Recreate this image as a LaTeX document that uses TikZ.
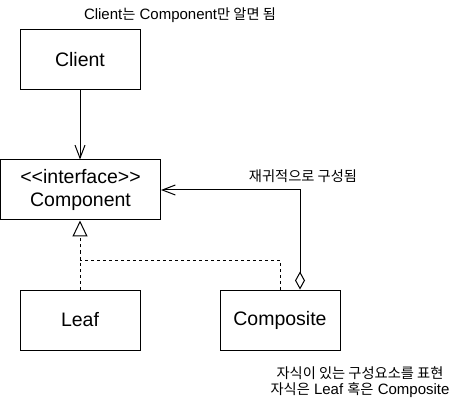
\documentclass[tikz,border=0pt]{standalone}
\usepackage{fontspec}
\setmainfont{Liberation Sans}
\newfontfamily\kr{Noto Sans CJK KR}[Scale=0.95,RawFeature=+palt]
\usetikzlibrary{arrows.meta}
\tikzset{
  umlbox/.style={draw, line width=1pt, minimum width=120pt, minimum height=60pt, inner sep=0pt, align=center, font=\fontsize{19.5}{23}\selectfont},
  note/.style={inner sep=0pt, align=center, font=\fontsize{15}{15.5}\selectfont},
  conn/.style={line width=1pt},
  dashconn/.style={line width=1pt, dash pattern=on 3pt off 3pt},
  openhead/.style={-{Straight Barb[length=13pt,width=10pt,line width=1pt]}},
}
\begin{document}
\begin{tikzpicture}[x=1pt,y=-1pt]
\useasboundingbox (0,0) rectangle (461,401);
\node[umlbox] (client) at (80,60) {Client};
\node[umlbox, minimum width=160pt] (component) at (80.5,190) {<\kern0pt<interface>\kern0pt>\\Component};
\node[umlbox] (leaf) at (80,320) {Leaf};
\node[umlbox] (composite) at (280,320) {Composite};

\node[note] (lbl1) at (180,15.5) {Client{\kr 는} Component{\kr 만 알면 됨}};
\node[note] (lbl2) at (303,176) {{\kr 재귀적으로 구성됨}};
\node[note] (lbl3) at (360,382) {{\kr 자식이 있는 구성요소를 표현}\\{\kr 자식은} Leaf {\kr 혹은} Composite};

\draw[conn, openhead] (client.south) -- (component.north -| client.south);
\coordinate (junc) at (80,260);
\draw[dashconn, -{Triangle[open,length=16pt,width=15pt,line width=1pt]}] (leaf.north) -- (component.south -| leaf.north);
\draw[dashconn] (composite.north) |- (junc);
\coordinate (aggtop) at (300,190);
\draw[conn, {Diamond[open,length=18pt,width=10pt,line width=1pt]}-{Straight Barb[length=13pt,width=10pt,line width=1pt]}] (composite.north -| aggtop) |- (component.east);
\end{tikzpicture}
\end{document}
